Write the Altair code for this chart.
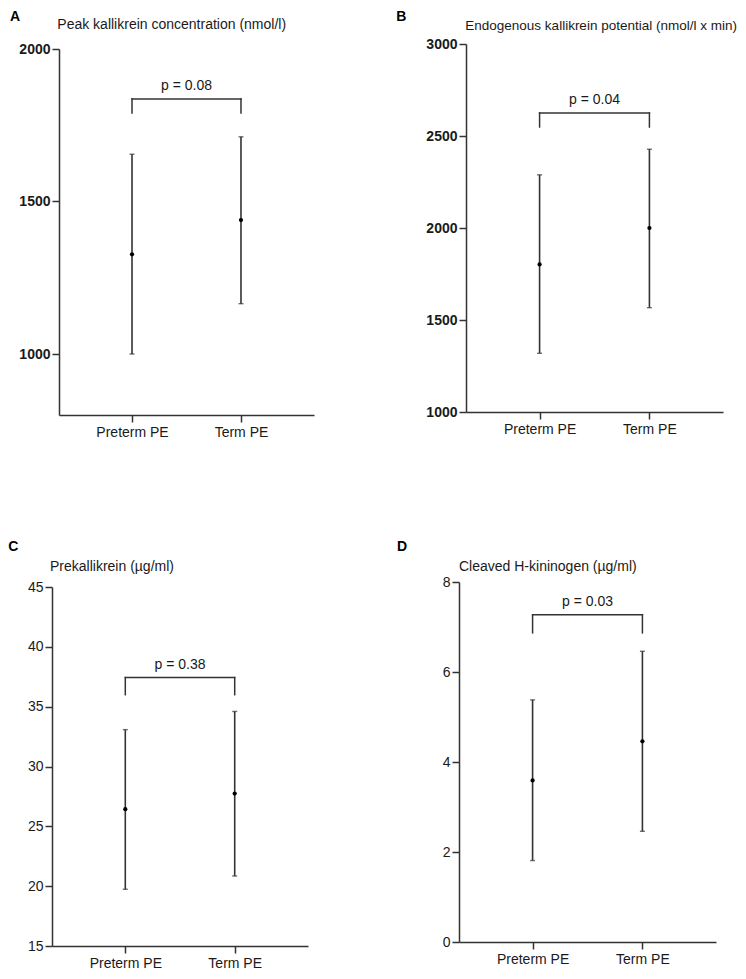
import altair as alt
import pandas as pd

# ---------------- data ----------------
groups = ["Preterm PE", "Term PE"]
positions = [1, 2]

a_mean = [1327, 1439]
a_low = [1000, 1165]
a_high = [1655, 1712]
a_bracket = [1836, 1790]
a_p = "p = 0.08"

b_mean = [1802, 2000]
b_low = [1319, 1567]
b_high = [2289, 2428]
b_bracket = [2625, 2549]
b_p = "p = 0.04"

c_mean = [26.43, 27.74]
c_low = [19.74, 20.85]
c_high = [33.08, 34.6]
c_bracket = [37.43, 36.0]
c_p = "p = 0.38"

d_mean = [3.59, 4.46]
d_low = [1.81, 2.46]
d_high = [5.38, 6.46]
d_bracket = [7.27, 6.87]
d_p = "p = 0.03"

a_ticks = [1000, 1500, 2000]
b_ticks = [1000, 1500, 2000, 2500, 3000]
c_ticks = [15, 20, 25, 30, 35, 40, 45]
d_ticks = [0, 2, 4, 6, 8]

FONT = "Liberation Sans"
INK = "#1a1a1a"
LINE = "#333333"
LW = 1.5
X_DOMAIN = [0.33, 2.67]


def panel(letter, title, mean, low, high, bracket, ptext, domain, ticks,
          w, h, bold, letter_xy, title_xy, title_size=14,
          xrange=None, yrange=None, yoff=0):
    if xrange is None:
        xs = alt.Scale(domain=X_DOMAIN)
    else:
        xs = alt.Scale(domain=X_DOMAIN, range=xrange)
    if yrange is None:
        ys = alt.Scale(domain=domain, nice=False, zero=False)
    else:
        ys = alt.Scale(domain=domain, nice=False, zero=False, range=yrange)

    label_expr = f"datum.value == {positions[0]} ? '{groups[0]}' : '{groups[1]}'"
    xax = alt.Axis(values=positions, labelExpr=label_expr, title=None, grid=False,
                   tickSize=7, labelPadding=3, labelFontSize=14, labelFont=FONT,
                   labelColor=INK, domainColor=LINE, tickColor=LINE,
                   domainWidth=LW, tickWidth=LW, labelAngle=0)
    yax = alt.Axis(values=ticks, format="d", title=None, grid=False, tickSize=7,
                   labelPadding=2, labelFontSize=14, labelFont=FONT, labelColor=INK,
                   labelFontWeight="bold" if bold else "normal",
                   domainColor=LINE, tickColor=LINE, domainWidth=LW, tickWidth=LW,
                   offset=yoff)

    df = pd.DataFrame({"pos": positions, "group": groups, "mean": mean,
                       "low": low, "high": high})
    base = alt.Chart(df)
    X = alt.X("pos:Q", scale=xs, axis=xax)

    bars = base.mark_rule(color=LINE, strokeWidth=1.6).encode(
        x=X, y=alt.Y("low:Q", scale=ys, axis=yax), y2="high:Q")
    cap_hi = base.mark_tick(color=LINE, thickness=1.4, size=5, orient="horizontal").encode(
        x=X, y=alt.Y("high:Q", scale=ys, axis=yax))
    cap_lo = base.mark_tick(color=LINE, thickness=1.4, size=5, orient="horizontal").encode(
        x=X, y=alt.Y("low:Q", scale=ys, axis=yax))
    dots = base.mark_circle(color="#000000", size=18, opacity=1).encode(
        x=X, y=alt.Y("mean:Q", scale=ys, axis=yax))

    bdf = pd.DataFrame({"x1": [positions[0]], "x2": [positions[1]], "y": [bracket[0]]})
    brk = alt.Chart(bdf).mark_rule(color=LINE, strokeWidth=LW, strokeCap="square").encode(
        x=alt.X("x1:Q", scale=xs, axis=xax), x2="x2:Q",
        y=alt.Y("y:Q", scale=ys, axis=yax))
    ldf = pd.DataFrame({"pos": positions, "top": [bracket[0]] * 2, "bot": [bracket[1]] * 2})
    legs = alt.Chart(ldf).mark_rule(color=LINE, strokeWidth=LW, strokeCap="square").encode(
        x=X, y=alt.Y("top:Q", scale=ys, axis=yax), y2="bot:Q")
    tdf = pd.DataFrame({"x": [sum(positions) / len(positions)], "y": [bracket[0]], "t": [ptext]})
    ptx = alt.Chart(tdf).mark_text(dy=-9, fontSize=14, font=FONT, color=INK,
                                   baseline="alphabetic", align="center").encode(
        x=alt.X("x:Q", scale=xs, axis=xax), y=alt.Y("y:Q", scale=ys, axis=yax), text="t:N")

    let = alt.Chart(pd.DataFrame({"t": [letter]})).mark_text(
        align="left", baseline="alphabetic", fontSize=14, fontWeight="bold",
        font=FONT, color="#000000").encode(
        text="t:N", x=alt.value(letter_xy[0]), y=alt.value(letter_xy[1]))
    ttl = alt.Chart(pd.DataFrame({"t": [title]})).mark_text(
        align="left", baseline="alphabetic", fontSize=title_size, font=FONT, color=INK).encode(
        text="t:N", x=alt.value(title_xy[0]), y=alt.value(title_xy[1]))

    return alt.layer(bars, cap_hi, cap_lo, dots, brk, legs, ptx, let, ttl).properties(
        width=w, height=h)


pA = panel("A", "Peak kallikrein concentration (nmol/l)", a_mean, a_low, a_high,
           a_bracket, a_p, [800, 2000], a_ticks, 262, 371, True,
           (-42, -23), (5.3, -14.7), xrange=[7, 262], yrange=[371, 5], yoff=-7)
pB = panel("B", "Endogenous kallikrein potential (nmol/l x min)", b_mean, b_low, b_high,
           b_bracket, b_p, [1000, 3000], b_ticks, 264, 368, True,
           (-62.7, -23), (6.3, -14.5), title_size=13.5, xrange=[7, 264], yoff=-7)
pC = panel("C", "Prekallikrein (µg/ml)", c_mean, c_low, c_high,
           c_bracket, c_p, [15, 45], c_ticks, 256, 364, False,
           (-43.7, -31.5), (-2, -11), yrange=[364, 5])
pD = panel("D", "Cleaved H-kininogen (µg/ml)", d_mean, d_low, d_high,
           d_bracket, d_p, [0, 8], d_ticks, 257, 360, False,
           (-62, -31.3), (0, -11))

chart = alt.concat(pA, pB, pC, pD, columns=2, spacing={"row": 100, "column": 82},
                   bounds="full", align="each").resolve_scale(
    x="independent", y="independent").properties(
    padding={"left": 0, "top": 2, "right": 0, "bottom": 0},
    background="white").configure_view(stroke=None)

chart.save("out.html", embed_options={"renderer": "svg", "actions": False})
